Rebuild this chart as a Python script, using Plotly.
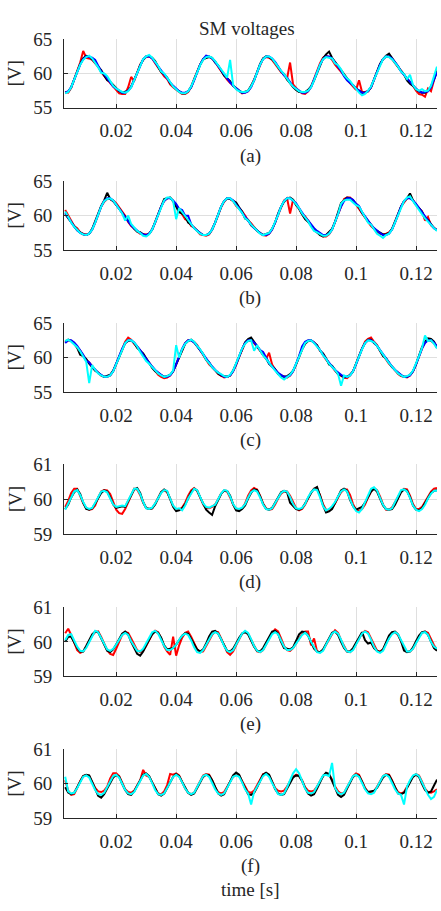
import plotly.graph_objects as go

# ---------------- data ----------------
TIME_MS = [3, 4, 5, 6, 7, 8, 9, 10, 11, 12, 13, 14, 15, 16, 17, 18, 19, 20, 21, 22,
           23, 24, 25, 26, 27, 28, 29, 30, 31, 32, 33, 34, 35, 36, 37, 38, 39, 40, 41, 42,
           43, 44, 45, 46, 47, 48, 49, 50, 51, 52, 53, 54, 55, 56, 57, 58, 59, 60, 61, 62,
           63, 64, 65, 66, 67, 68, 69, 70, 71, 72, 73, 74, 75, 76, 77, 78, 79, 80, 81, 82,
           83, 84, 85, 86, 87, 88, 89, 90, 91, 92, 93, 94, 95, 96, 97, 98, 99, 100, 101, 102,
           103, 104, 105, 106, 107, 108, 109, 110, 111, 112, 113, 114, 115, 116, 117, 118, 119, 120, 121, 122,
           123, 124, 125, 126, 127]

X_TICKS = [0.02, 0.04, 0.06, 0.08, 0.1, 0.12]
X_TICK_LABELS = ["0.02", "0.04", "0.06", "0.08", "0.1", "0.12"]
Y_TICKS_ABC = [55, 60, 65]
Y_TICKS_DEF = [59, 60, 61]
PANEL_LABELS = ["(a)", "(b)", "(c)", "(d)", "(e)", "(f)"]
TITLE = "SM voltages"
Y_LABEL = "[V]"
X_LABEL = "time [s]"

A_BLACK = [57.2, 57.3, 58.0, 59.1, 60.3, 61.4, 62.2, 62.6, 62.5, 62.1, 61.6, 61.0, 60.5, 59.7, 59.0, 58.8, 58.3, 57.8, 57.4, 57.2,
           57.3, 57.5, 58.1, 59.0, 60.1, 61.2, 62.0, 62.5, 62.6, 62.3, 61.8, 61.0, 60.2, 59.9, 59.4, 58.6, 58.1, 57.7, 57.4, 57.1,
           57.1, 57.4, 58.0, 59.1, 60.3, 61.3, 62.1, 62.2, 62.4, 62.3, 61.6, 61.2, 60.4, 59.7, 59.3, 58.9, 58.2, 57.8, 57.5, 57.2,
           57.3, 57.5, 58.2, 59.0, 60.2, 61.4, 62.2, 62.5, 62.4, 62.1, 61.6, 60.9, 60.3, 59.9, 59.1, 58.6, 58.0, 57.6, 57.3, 57.3,
           57.3, 57.6, 58.1, 59.0, 60.1, 61.3, 62.2, 62.8, 63.2, 62.3, 61.7, 61.2, 60.5, 59.9, 59.3, 58.7, 58.3, 57.8, 57.5, 57.2,
           57.2, 57.4, 58.0, 59.1, 60.2, 61.4, 62.1, 62.6, 62.9, 62.2, 61.7, 61.0, 60.4, 59.9, 59.0, 58.5, 58.2, 57.7, 57.4, 57.2,
           57.2, 57.5, 58.1, 59.2, 60.3]
A_RED = [57.3, 57.2, 57.9, 59.2, 60.5, 61.6, 63.3, 62.3, 62.2, 62.0, 61.5, 61.0, 60.2, 59.6, 59.1, 58.6, 58.1, 57.6, 57.1, 57.0,
         57.0, 58.0, 59.5, 58.9, 60.0, 61.3, 62.0, 62.4, 62.5, 62.2, 61.5, 60.8, 60.3, 59.6, 59.2, 58.4, 58.0, 57.6, 57.3, 57.0,
         57.0, 57.3, 58.1, 59.2, 60.4, 61.3, 62.0, 62.4, 62.5, 62.2, 61.8, 61.0, 60.3, 59.8, 59.1, 58.6, 58.3, 57.8, 57.4, 57.1,
         57.2, 57.4, 58.1, 59.1, 60.1, 61.2, 62.2, 62.4, 62.3, 62.0, 61.4, 60.8, 60.2, 59.8, 59.3, 61.6, 58.4, 57.9, 57.4, 57.1,
         57.0, 57.4, 58.1, 59.2, 60.3, 61.5, 62.3, 62.6, 62.4, 62.0, 61.3, 60.8, 60.3, 59.7, 59.2, 58.6, 58.1, 57.6, 59.0, 57.3,
         57.3, 57.4, 58.0, 59.1, 60.2, 61.3, 62.1, 62.5, 62.5, 62.1, 61.5, 61.0, 60.4, 59.8, 59.3, 58.7, 58.2, 57.5, 57.0, 56.9,
         56.6, 57.8, 57.4, 59.0, 60.6]
A_BLUE = [57.2, 57.4, 58.0, 59.0, 60.2, 61.3, 62.1, 62.5, 62.4, 62.3, 62.0, 61.2, 60.3, 59.9, 59.3, 58.6, 58.1, 57.8, 57.5, 57.2,
          57.2, 57.5, 58.0, 59.0, 60.2, 61.2, 62.1, 62.5, 62.5, 62.2, 61.6, 61.1, 60.5, 59.9, 59.3, 58.7, 58.2, 57.8, 57.4, 57.2,
          57.2, 57.4, 58.0, 59.0, 60.2, 61.3, 62.1, 62.6, 62.5, 62.2, 61.7, 61.1, 60.4, 59.8, 59.2, 58.7, 58.2, 57.8, 57.5, 57.2,
          57.2, 57.4, 58.0, 59.0, 60.2, 61.3, 62.1, 62.5, 62.5, 62.2, 61.7, 61.0, 60.4, 59.7, 59.4, 58.8, 58.1, 57.8, 57.5, 57.2,
          57.2, 57.4, 58.0, 59.0, 60.2, 61.3, 62.1, 62.5, 62.5, 62.2, 61.6, 61.1, 60.4, 59.6, 59.0, 58.6, 58.3, 57.8, 57.5, 57.2,
          57.2, 57.4, 58.0, 59.0, 60.2, 61.3, 62.1, 62.5, 62.5, 62.2, 61.7, 61.1, 60.3, 59.8, 59.2, 58.7, 58.2, 57.8, 57.4, 57.2,
          57.3, 57.4, 58.0, 59.0, 60.2]
A_CYAN = [57.1, 57.3, 58.0, 59.0, 60.2, 61.3, 62.0, 62.4, 62.6, 62.2, 61.6, 60.9, 60.1, 60.0, 59.6, 58.8, 58.2, 57.8, 57.5, 57.3,
          57.2, 57.4, 58.0, 59.0, 60.1, 61.2, 62.1, 62.5, 62.7, 62.3, 61.7, 61.1, 60.3, 60.0, 59.4, 58.7, 58.1, 57.7, 57.3, 57.1,
          57.1, 57.4, 58.1, 59.1, 60.2, 61.2, 62.0, 62.4, 62.5, 62.3, 61.8, 61.2, 60.5, 59.9, 59.4, 62.0, 58.3, 57.7, 57.4, 57.3,
          57.3, 57.5, 58.1, 59.0, 60.1, 61.3, 62.1, 62.5, 62.5, 62.2, 61.6, 60.9, 60.4, 59.9, 59.2, 58.6, 58.1, 57.7, 57.4, 57.3,
          57.3, 57.5, 58.0, 59.0, 60.2, 61.3, 62.1, 62.4, 62.3, 62.2, 61.5, 61.2, 60.6, 59.8, 59.3, 58.9, 58.3, 57.7, 57.2, 56.8,
          57.0, 57.5, 58.1, 59.1, 60.1, 61.3, 62.1, 62.5, 62.4, 62.1, 61.6, 61.0, 60.3, 59.9, 59.2, 59.8, 58.3, 57.7, 57.5, 57.7,
          57.4, 57.5, 58.2, 59.8, 61.0]

B_BLACK = [60.2, 59.6, 59.0, 58.5, 57.9, 57.6, 57.3, 57.2, 57.4, 58.1, 59.1, 60.3, 61.4, 62.2, 63.3, 62.4, 62.1, 61.6, 61.0, 60.4,
           59.8, 59.3, 58.6, 58.1, 57.7, 57.6, 57.3, 57.1, 57.4, 58.0, 59.1, 60.3, 61.3, 62.4, 62.5, 62.6, 62.1, 61.2, 60.5, 60.3,
           59.9, 59.0, 58.7, 58.2, 57.8, 57.5, 57.2, 57.2, 57.4, 58.0, 59.0, 60.2, 61.3, 62.1, 62.5, 62.4, 62.2, 61.9, 61.2, 60.6,
           59.6, 59.4, 58.6, 58.2, 57.8, 57.5, 57.2, 57.3, 57.5, 58.1, 59.0, 60.3, 61.3, 62.0, 62.5, 62.6, 62.3, 61.5, 61.0, 60.2,
           59.5, 59.1, 58.6, 58.0, 57.6, 57.2, 57.0, 57.2, 57.6, 58.1, 59.1, 60.3, 61.8, 62.2, 62.6, 62.5, 62.2, 61.7, 61.2, 60.4,
           59.7, 59.2, 58.7, 58.1, 57.8, 57.5, 57.3, 57.3, 57.5, 58.1, 59.2, 60.3, 61.3, 62.1, 62.5, 63.2, 62.2, 61.6, 61.1, 60.6,
           59.6, 59.4, 58.8, 58.2, 57.9]
B_RED = [60.8, 60.0, 59.2, 58.5, 58.2, 57.6, 57.4, 57.3, 57.4, 58.0, 59.0, 60.2, 61.3, 62.0, 62.4, 62.4, 62.2, 61.8, 61.2, 60.6,
         60.0, 59.1, 58.5, 58.2, 57.7, 57.4, 57.3, 57.3, 57.4, 58.0, 59.0, 60.2, 61.3, 62.1, 62.5, 62.6, 62.1, 61.5, 60.7, 60.2,
         59.5, 59.3, 58.5, 58.3, 57.8, 57.3, 57.2, 57.1, 57.3, 58.0, 59.0, 60.1, 61.2, 62.0, 62.5, 62.4, 62.1, 61.4, 61.0, 60.6,
         60.0, 59.3, 58.9, 58.3, 57.8, 57.5, 57.2, 57.1, 57.4, 58.0, 59.0, 60.1, 61.2, 62.2, 62.5, 60.3, 62.3, 61.7, 61.0, 60.2,
         59.9, 59.3, 58.5, 57.9, 57.6, 57.4, 57.0, 57.0, 57.3, 58.0, 59.1, 60.2, 61.5, 62.4, 62.6, 62.6, 62.2, 61.6, 60.9, 60.3,
         59.7, 59.1, 58.5, 58.1, 57.6, 57.4, 57.3, 57.4, 57.6, 58.0, 59.0, 60.1, 61.3, 62.0, 62.5, 62.6, 62.2, 61.5, 61.0, 60.6,
         59.3, 59.8, 58.6, 58.3, 57.9]
B_BLUE = [60.4, 59.7, 59.1, 58.4, 57.9, 57.5, 57.3, 57.2, 57.4, 58.0, 59.0, 60.2, 61.3, 62.1, 62.5, 62.5, 62.2, 61.6, 61.0, 60.4,
          59.8, 59.2, 58.6, 58.2, 57.8, 57.5, 57.3, 57.2, 57.4, 58.0, 59.0, 60.2, 61.3, 62.1, 62.5, 62.5, 62.2, 61.7, 61.0, 60.8,
          60.0, 60.0, 58.8, 58.2, 57.8, 57.5, 57.2, 57.2, 57.4, 58.0, 59.0, 60.2, 61.3, 62.1, 62.5, 62.5, 62.2, 61.6, 61.1, 60.4,
          59.8, 59.2, 58.7, 58.2, 57.8, 57.5, 57.2, 57.2, 57.4, 58.0, 59.0, 60.2, 61.3, 62.1, 62.5, 62.5, 62.2, 61.8, 61.1, 60.4,
          59.8, 59.3, 58.7, 58.2, 57.8, 57.5, 57.2, 57.2, 57.4, 58.0, 59.0, 60.2, 61.3, 62.1, 62.5, 62.5, 62.3, 61.7, 61.4, 60.5,
          59.9, 59.2, 58.7, 58.2, 57.8, 57.5, 57.2, 57.2, 57.4, 58.0, 59.0, 60.2, 61.3, 62.1, 62.5, 62.5, 62.2, 61.7, 61.1, 60.4,
          59.8, 59.2, 58.7, 58.2, 57.9]
B_CYAN = [60.6, 59.7, 59.0, 58.4, 57.9, 57.5, 57.3, 57.2, 57.4, 58.0, 59.0, 60.2, 61.3, 62.1, 62.4, 62.5, 62.2, 61.6, 60.9, 60.3,
          59.3, 60.0, 58.8, 58.3, 57.8, 57.5, 57.1, 57.0, 57.3, 58.0, 59.0, 60.1, 61.2, 62.2, 62.6, 62.6, 62.1, 59.5, 61.1, 60.5,
          60.0, 59.3, 58.7, 58.2, 57.8, 57.4, 57.2, 57.2, 57.4, 58.0, 59.0, 60.2, 61.3, 62.1, 62.5, 62.5, 62.1, 61.5, 61.0, 60.4,
          59.6, 59.3, 58.7, 58.3, 57.8, 57.4, 57.2, 57.3, 57.5, 58.1, 59.0, 60.1, 61.3, 62.1, 62.5, 62.5, 62.2, 61.7, 61.1, 60.3,
          59.8, 59.2, 58.4, 57.8, 57.6, 57.3, 57.1, 57.1, 57.4, 58.0, 59.0, 60.2, 61.7, 62.2, 62.3, 62.3, 61.9, 61.5, 61.3, 60.6,
          59.8, 59.0, 58.7, 58.1, 57.4, 57.1, 56.8, 57.2, 57.4, 58.0, 59.0, 60.2, 61.2, 62.1, 62.6, 62.8, 62.1, 61.4, 60.7, 60.2,
          59.6, 59.1, 58.6, 58.2, 57.8]

C_BLACK = [62.3, 62.6, 62.4, 62.0, 61.4, 60.4, 60.2, 59.8, 59.1, 58.6, 58.1, 57.8, 57.4, 57.2, 57.3, 57.5, 58.1, 59.1, 60.2, 61.3,
           62.1, 62.4, 62.5, 62.1, 61.4, 61.0, 60.6, 59.9, 59.1, 58.5, 58.0, 57.7, 57.4, 57.2, 57.3, 57.5, 58.0, 59.0, 60.2, 61.2,
           62.0, 62.4, 62.6, 62.2, 61.6, 61.1, 60.5, 59.7, 59.3, 58.6, 58.1, 57.7, 57.4, 57.3, 57.2, 57.4, 58.1, 59.1, 60.2, 61.3,
           62.2, 62.7, 62.9, 62.3, 61.6, 60.9, 60.4, 59.9, 59.1, 58.7, 58.3, 57.6, 57.3, 57.2, 57.3, 57.6, 58.1, 59.0, 60.1, 61.2,
           62.0, 62.4, 62.5, 62.2, 61.8, 61.0, 60.6, 59.9, 59.0, 58.8, 58.2, 57.6, 57.4, 57.1, 57.2, 57.5, 58.0, 59.0, 60.2, 61.3,
           62.1, 62.6, 62.6, 62.1, 61.7, 61.0, 60.2, 59.9, 59.2, 58.6, 58.2, 57.8, 57.4, 57.2, 57.2, 57.5, 58.0, 59.0, 60.3, 61.5,
           62.3, 62.8, 62.7, 62.3, 61.5]
C_RED = [62.2, 62.5, 62.4, 62.1, 61.5, 61.0, 60.3, 59.7, 59.3, 58.7, 58.2, 57.8, 57.4, 57.2, 57.2, 57.4, 58.0, 59.0, 60.2, 61.4,
         62.3, 62.9, 62.6, 62.0, 61.6, 61.0, 60.4, 59.8, 59.2, 58.6, 58.0, 57.5, 57.2, 57.0, 57.1, 57.4, 58.0, 59.0, 60.1, 61.2,
         62.1, 62.5, 62.5, 62.3, 61.8, 61.1, 60.3, 59.7, 59.0, 58.6, 58.2, 57.6, 57.3, 57.1, 57.2, 57.4, 58.0, 58.9, 60.1, 61.2,
         62.1, 62.4, 62.4, 62.1, 61.6, 61.0, 60.4, 59.8, 60.7, 59.0, 58.3, 57.7, 57.4, 57.2, 57.1, 57.4, 58.0, 59.0, 60.1, 61.2,
         62.0, 62.4, 62.5, 62.2, 61.7, 61.0, 60.4, 59.7, 59.2, 58.6, 58.1, 57.6, 57.3, 57.1, 57.0, 57.4, 58.0, 59.0, 60.2, 61.3,
         62.3, 62.7, 62.9, 62.3, 61.8, 61.0, 60.3, 59.6, 59.1, 58.7, 58.2, 57.6, 57.3, 57.2, 57.1, 57.4, 58.0, 59.0, 60.2, 61.3,
         62.2, 62.6, 62.4, 62.1, 61.4]
C_BLUE = [62.1, 62.5, 62.5, 62.2, 61.7, 61.1, 60.4, 59.5, 59.3, 58.7, 58.2, 57.8, 57.5, 57.2, 57.2, 57.4, 58.0, 59.0, 60.2, 61.3,
          62.1, 62.5, 62.5, 62.2, 61.7, 61.1, 60.4, 59.8, 59.2, 58.7, 58.2, 57.8, 57.5, 57.2, 57.2, 57.4, 58.0, 59.0, 60.2, 61.3,
          62.1, 62.5, 62.5, 62.2, 61.7, 61.1, 60.4, 59.8, 59.2, 58.7, 58.2, 57.8, 57.5, 57.2, 57.2, 57.4, 58.0, 59.0, 60.2, 61.3,
          62.1, 62.5, 62.5, 62.2, 61.7, 61.1, 60.8, 59.9, 59.2, 58.7, 58.2, 57.8, 57.5, 57.2, 57.2, 57.4, 58.0, 59.0, 60.2, 61.6,
          62.3, 62.5, 62.5, 62.2, 61.7, 61.1, 60.4, 59.8, 59.2, 58.7, 58.2, 57.8, 57.5, 57.2, 57.2, 57.4, 58.0, 59.0, 60.2, 61.3,
          62.1, 62.5, 62.5, 62.2, 61.7, 61.1, 60.4, 59.8, 59.2, 58.7, 58.2, 57.8, 57.5, 57.2, 57.2, 57.4, 58.0, 59.0, 60.2, 61.3,
          62.1, 62.5, 62.5, 62.2, 61.6]
C_CYAN = [62.4, 62.6, 62.3, 61.9, 61.5, 60.9, 60.1, 59.4, 56.3, 58.9, 58.2, 57.7, 57.4, 57.2, 57.2, 57.4, 58.0, 59.0, 60.1, 61.2,
          62.1, 62.5, 62.5, 62.2, 61.6, 60.8, 60.1, 59.5, 59.1, 58.6, 58.2, 57.7, 57.4, 57.2, 57.3, 57.5, 58.1, 61.8, 60.0, 61.2,
          62.0, 62.4, 62.6, 62.3, 61.7, 61.2, 60.5, 59.7, 59.2, 58.6, 58.2, 57.8, 57.6, 57.3, 57.2, 57.5, 58.1, 59.1, 60.2, 61.3,
          62.0, 62.4, 62.5, 61.0, 61.8, 61.0, 60.3, 59.8, 59.2, 58.6, 58.1, 57.6, 57.1, 56.8, 57.2, 57.5, 58.1, 59.1, 60.2, 61.2,
          62.1, 62.4, 62.5, 62.1, 61.6, 61.1, 60.3, 59.8, 59.1, 58.7, 58.2, 57.6, 55.9, 57.4, 57.2, 57.4, 58.0, 59.1, 60.2, 61.2,
          62.1, 62.5, 62.4, 62.2, 61.7, 61.0, 60.5, 59.8, 59.2, 58.7, 58.1, 57.7, 57.4, 57.2, 57.3, 57.5, 58.1, 59.1, 60.2, 61.4,
          63.2, 62.4, 62.5, 62.0, 61.3]

D_BLACK = [59.72, 59.85, 60.05, 60.20, 60.28, 60.15, 59.90, 59.72, 59.70, 59.74,
           59.88, 60.02, 60.18, 60.25, 60.22, 60.05, 59.85, 59.75, 59.78, 59.80,
           59.78, 59.95, 60.12, 60.28, 60.32, 60.18, 59.92, 59.75, 59.72, 59.74,
           59.85, 60.05, 60.20, 60.28, 60.22, 60.00, 59.78, 59.66, 59.68, 59.74,
           59.85, 60.02, 60.20, 60.30, 60.25, 60.06, 59.88, 59.70, 59.62, 59.55,
           59.80, 60.00, 60.15, 60.25, 60.24, 60.10, 59.85, 59.68, 59.66, 59.72,
           59.82, 60.02, 60.18, 60.28, 60.26, 60.08, 59.86, 59.72, 59.70, 59.75,
           59.90, 60.06, 60.20, 60.24, 60.20, 59.90, 59.82, 59.72, 59.70, 59.74,
           59.88, 60.05, 60.18, 60.30, 60.35, 60.10, 59.82, 59.62, 59.65, 59.72,
           59.90, 60.10, 60.25, 60.30, 60.24, 59.98, 59.80, 59.70, 59.74, 59.78,
           59.90, 60.08, 60.22, 60.30, 60.22, 60.02, 59.82, 59.72, 59.70, 59.72,
           59.84, 60.02, 60.20, 60.28, 60.24, 60.05, 59.82, 59.70, 59.68, 59.74,
           59.90, 60.06, 60.18, 60.24, 60.26]
D_RED = [59.78, 59.95, 60.18, 60.30, 60.30, 60.10, 59.88, 59.75, 59.70, 59.72,
         59.82, 60.05, 60.22, 60.26, 60.25, 60.15, 59.90, 59.70, 59.60, 59.58,
         59.72, 59.90, 60.12, 60.30, 60.28, 60.12, 59.90, 59.75, 59.72, 59.74,
         59.88, 60.05, 60.20, 60.25, 60.20, 60.02, 59.80, 59.70, 59.70, 59.76,
         59.90, 60.10, 60.25, 60.32, 60.24, 60.05, 59.85, 59.75, 59.74, 59.78,
         59.85, 60.00, 60.16, 60.24, 60.22, 60.05, 59.85, 59.72, 59.70, 59.74,
         59.88, 60.10, 60.25, 60.32, 60.28, 60.10, 59.88, 59.74, 59.70, 59.72,
         59.85, 60.02, 60.16, 60.22, 60.22, 60.10, 59.90, 59.74, 59.68, 59.72,
         59.84, 60.02, 60.20, 60.30, 60.30, 60.12, 59.86, 59.70, 59.68, 59.75,
         59.88, 60.05, 60.20, 60.28, 60.28, 60.12, 59.86, 59.70, 59.66, 59.72,
         59.85, 60.05, 60.22, 60.32, 60.26, 60.08, 59.85, 59.70, 59.70, 59.76,
         59.90, 60.06, 60.22, 60.30, 60.28, 60.10, 59.86, 59.72, 59.72, 59.78,
         59.92, 60.10, 60.22, 60.30, 60.32]
D_CYAN = [59.70, 59.88, 60.08, 60.22, 60.26, 60.12, 59.92, 59.76, 59.72, 59.75,
          59.90, 60.05, 60.22, 60.24, 60.20, 60.02, 59.85, 59.78, 59.80, 59.82,
          59.80, 59.96, 60.15, 60.30, 60.30, 60.15, 59.92, 59.74, 59.72, 59.76,
          59.88, 60.04, 60.18, 60.26, 60.24, 60.02, 59.82, 59.72, 59.74, 59.68,
          59.82, 60.02, 60.18, 60.30, 60.26, 60.06, 59.88, 59.78, 59.76, 59.80,
          59.84, 60.00, 60.16, 60.26, 60.24, 60.08, 59.86, 59.74, 59.72, 59.76,
          59.86, 60.04, 60.20, 60.26, 60.22, 60.05, 59.85, 59.72, 59.70, 59.74,
          59.88, 60.04, 60.18, 60.24, 60.22, 60.06, 59.86, 59.74, 59.72, 59.75,
          59.86, 60.06, 60.20, 60.28, 60.26, 60.05, 59.80, 59.68, 59.72, 59.80,
          59.92, 60.08, 60.22, 60.28, 60.22, 60.00, 59.80, 59.66, 59.62, 59.72,
          59.90, 60.12, 60.30, 60.34, 60.25, 60.04, 59.84, 59.72, 59.70, 59.74,
          59.90, 60.10, 60.26, 60.28, 60.22, 60.04, 59.82, 59.70, 59.66, 59.72,
          59.84, 60.02, 60.16, 60.24, 60.24]

E_BLACK = [60.00, 60.15, 60.15, 60.00, 59.82, 59.72, 59.72, 59.88, 60.05, 60.22,
           60.30, 60.28, 60.10, 59.90, 59.74, 59.70, 59.78, 59.92, 60.10, 60.24,
           60.30, 60.22, 60.00, 59.80, 59.65, 59.60, 59.72, 59.90, 60.08, 60.22,
           60.30, 60.26, 60.12, 59.90, 59.78, 59.80, 59.82, 59.92, 60.06, 60.18,
           60.25, 60.24, 60.08, 59.92, 59.78, 59.72, 59.78, 59.95, 60.16, 60.30,
           60.32, 60.24, 60.06, 59.88, 59.74, 59.72, 59.80, 59.95, 60.12, 60.24,
           60.28, 60.22, 60.04, 59.86, 59.74, 59.72, 59.82, 59.98, 60.15, 60.30,
           60.32, 60.24, 60.00, 59.82, 59.80, 59.78, 59.84, 60.05, 60.22, 60.30,
           60.28, 60.18, 59.98, 59.80, 59.72, 59.70, 59.78, 59.95, 60.12, 60.26,
           60.30, 60.20, 60.00, 59.82, 59.72, 59.72, 59.82, 59.98, 60.15, 60.28,
           60.05, 59.95, 59.98, 59.82, 59.74, 59.70, 59.78, 59.98, 60.18, 60.28,
           60.30, 60.22, 60.02, 59.75, 59.70, 59.72, 59.84, 60.02, 60.18, 60.28,
           60.30, 60.20, 60.00, 59.82, 59.74]
E_RED = [60.25, 60.38, 60.20, 59.95, 59.76, 59.68, 59.72, 59.85, 60.02, 60.18,
         60.28, 60.30, 60.14, 59.94, 59.76, 59.65, 59.62, 59.80, 60.02, 60.20,
         60.28, 60.26, 60.10, 59.92, 59.76, 59.70, 59.74, 59.88, 60.06, 60.22,
         60.32, 60.28, 60.10, 59.86, 59.72, 59.62, 60.15, 59.60, 59.90, 60.12,
         60.26, 60.30, 60.15, 59.95, 59.78, 59.70, 59.72, 59.88, 60.05, 60.20,
         60.30, 60.28, 60.10, 59.88, 59.70, 59.62, 59.72, 59.90, 60.08, 60.24,
         60.30, 60.24, 60.06, 59.88, 59.72, 59.70, 59.76, 59.92, 60.10, 60.26,
         60.36, 60.30, 60.10, 59.88, 59.76, 59.74, 59.82, 59.95, 60.10, 60.22,
         60.30, 60.30, 59.90, 60.10, 59.72, 59.70, 59.76, 59.92, 60.08, 60.22,
         60.34, 60.26, 60.05, 59.86, 59.72, 59.70, 59.78, 59.94, 60.10, 60.24,
         60.32, 60.28, 60.10, 59.90, 59.74, 59.72, 59.78, 59.95, 60.12, 60.26,
         60.28, 60.20, 60.02, 59.84, 59.72, 59.72, 59.80, 59.98, 60.14, 60.26,
         60.30, 60.26, 60.08, 59.90, 59.78]
E_CYAN = [60.05, 60.20, 60.22, 60.05, 59.86, 59.74, 59.72, 59.82, 60.00, 60.18,
          60.32, 60.28, 60.10, 59.92, 59.78, 59.74, 59.80, 59.92, 60.08, 60.20,
          60.26, 60.20, 60.02, 59.86, 59.74, 59.72, 59.80, 59.96, 60.14, 60.28,
          60.32, 60.24, 60.06, 59.88, 59.76, 59.76, 59.82, 59.92, 60.06, 60.18,
          60.24, 60.20, 60.04, 59.84, 59.70, 59.68, 59.76, 59.92, 60.10, 60.22,
          60.28, 60.24, 60.08, 59.88, 59.74, 59.70, 59.76, 59.92, 60.10, 60.24,
          60.32, 60.26, 60.08, 59.88, 59.74, 59.70, 59.76, 59.92, 60.08, 60.22,
          60.28, 60.22, 60.04, 59.86, 59.76, 59.76, 59.82, 59.94, 60.08, 60.20,
          60.26, 60.18, 60.00, 59.84, 59.70, 59.68, 59.74, 59.92, 60.10, 60.24,
          60.30, 60.24, 60.06, 59.86, 59.72, 59.70, 59.76, 59.92, 60.10, 60.24,
          60.30, 60.24, 60.06, 59.86, 59.72, 59.68, 59.74, 59.92, 60.10, 60.22,
          60.28, 60.22, 60.06, 59.86, 59.72, 59.72, 59.80, 59.96, 60.12, 60.26,
          60.28, 60.20, 60.00, 59.86, 59.80]

F_BLACK = [59.90, 59.75, 59.70, 59.74, 59.90, 60.08, 60.22, 60.26, 60.24, 60.05,
           59.84, 59.65, 59.60, 59.70, 59.86, 60.04, 60.18, 60.25, 60.20, 60.00,
           59.82, 59.70, 59.68, 59.78, 59.95, 60.12, 60.26, 60.30, 60.22, 60.04,
           59.85, 59.70, 59.66, 59.72, 59.88, 60.05, 60.20, 60.28, 60.22, 60.05,
           59.88, 59.74, 59.68, 59.72, 59.88, 60.06, 60.20, 60.26, 60.24, 60.10,
           59.90, 59.72, 59.66, 59.70, 59.88, 60.08, 60.24, 60.32, 60.26, 60.06,
           59.86, 59.70, 59.68, 59.74, 59.90, 60.10, 60.26, 60.32, 60.26, 60.06,
           59.85, 59.72, 59.68, 59.70, 59.84, 60.02, 60.18, 60.24, 60.22, 60.08,
           59.88, 59.72, 59.66, 59.70, 59.86, 60.06, 60.22, 60.32, 60.28, 60.08,
           59.85, 59.68, 59.62, 59.68, 59.86, 60.04, 60.20, 60.26, 60.22, 60.06,
           59.86, 59.76, 59.78, 59.80, 59.88, 60.02, 60.18, 60.26, 60.24, 60.08,
           59.88, 59.72, 59.70, 59.74, 59.88, 60.06, 60.20, 60.26, 60.20, 60.00,
           59.82, 59.74, 59.78, 59.95, 60.12]
F_RED = [60.10, 59.80, 59.68, 59.70, 59.88, 60.08, 60.22, 60.25, 60.22, 60.05,
         59.88, 59.78, 59.76, 59.80, 59.92, 60.15, 60.30, 60.30, 60.22, 60.04,
         59.84, 59.76, 59.74, 59.80, 59.94, 60.10, 60.40, 60.24, 60.20, 60.04,
         59.84, 59.72, 59.70, 59.78, 59.96, 60.28, 60.26, 60.30, 60.24, 60.06,
         59.86, 59.74, 59.70, 59.74, 59.90, 60.10, 60.24, 60.28, 60.26, 60.10,
         59.90, 59.76, 59.72, 59.76, 59.90, 60.06, 60.20, 60.26, 60.24, 60.08,
         59.90, 59.76, 59.74, 59.80, 59.96, 60.14, 60.28, 60.30, 60.24, 60.06,
         59.88, 59.80, 59.78, 59.80, 59.92, 60.08, 60.20, 60.26, 60.24, 60.10,
         59.90, 59.80, 59.78, 59.80, 59.92, 60.08, 60.22, 60.30, 60.26, 60.12,
         59.92, 59.78, 59.72, 59.74, 59.88, 60.06, 60.22, 60.30, 60.26, 60.08,
         59.88, 59.76, 59.72, 59.76, 59.90, 60.08, 60.22, 60.28, 60.26, 60.10,
         59.90, 59.76, 59.72, 59.76, 59.90, 60.08, 60.22, 60.28, 60.24, 60.06,
         59.86, 59.76, 59.74, 59.78, 59.84]
F_CYAN = [60.20, 59.78, 59.72, 59.74, 59.88, 60.06, 60.20, 60.24, 60.18, 60.00,
          59.82, 59.70, 59.68, 59.74, 59.90, 60.08, 60.22, 60.26, 60.18, 60.00,
          59.82, 59.72, 59.70, 59.76, 59.92, 60.10, 60.24, 60.28, 60.20, 60.02,
          59.82, 59.70, 59.68, 59.72, 59.88, 60.06, 60.20, 60.26, 60.20, 60.04,
          59.86, 59.74, 59.70, 59.74, 59.90, 60.08, 60.22, 60.26, 60.20, 60.02,
          59.84, 59.72, 59.68, 59.72, 59.88, 60.06, 60.20, 60.24, 60.20, 60.04,
          59.84, 59.72, 59.40, 59.76, 59.90, 60.08, 60.22, 60.28, 60.20, 60.02,
          59.84, 59.70, 59.68, 59.72, 59.90, 60.10, 60.30, 60.42, 60.30, 60.08,
          59.86, 59.74, 59.72, 59.76, 59.92, 60.10, 60.24, 60.26, 60.22, 60.60,
          59.88, 59.74, 59.70, 59.74, 59.90, 60.08, 60.22, 60.26, 60.20, 60.02,
          59.84, 59.72, 59.70, 59.74, 59.90, 60.08, 60.22, 60.26, 60.20, 60.02,
          59.84, 59.72, 59.68, 59.40, 59.92, 60.10, 60.24, 60.28, 60.22, 60.04,
          59.84, 59.68, 59.56, 59.62, 59.82]

PANELS = [
    {"black": A_BLACK, "red": A_RED, "blue": A_BLUE, "cyan": A_CYAN, "yticks": Y_TICKS_ABC},
    {"black": B_BLACK, "red": B_RED, "blue": B_BLUE, "cyan": B_CYAN, "yticks": Y_TICKS_ABC},
    {"black": C_BLACK, "red": C_RED, "blue": C_BLUE, "cyan": C_CYAN, "yticks": Y_TICKS_ABC},
    {"black": D_BLACK, "red": D_RED, "cyan": D_CYAN, "yticks": Y_TICKS_DEF},
    {"black": E_BLACK, "red": E_RED, "cyan": E_CYAN, "yticks": Y_TICKS_DEF},
    {"black": F_BLACK, "red": F_RED, "cyan": F_CYAN, "yticks": Y_TICKS_DEF},
]

for p in PANELS:
    for k in ("black", "red", "blue", "cyan"):
        if k in p:
            assert len(p[k]) == len(TIME_MS), (k, len(p[k]))

# ---------------- layout ----------------
W, H = 441, 911
PX_LEFT, PX_RIGHT = 64, 437
PANEL_PX = [(30, 100), (175, 246), (320.5, 391), (465, 536.5), (611.5, 682), (756.5, 827.5)]
FONT = "Liberation Serif, Times New Roman, Times, serif"
AXCOL = "#262626"
GRIDCOL = "#dfdfdf"
COLORS = {"black": "#000000", "red": "#ff0000", "blue": "#0000ff", "cyan": "#00ffff"}
ORDER = ["red", "black", "blue", "cyan"]

time_s = [t / 1000.0 for t in TIME_MS]

fig = go.Figure()
layout = dict(
    width=W, height=H, autosize=False,
    margin=dict(l=0, r=0, t=0, b=0, pad=0),
    paper_bgcolor="white", plot_bgcolor="white",
    showlegend=False,
    font=dict(family=FONT, color=AXCOL, size=19),
)

x0 = PX_LEFT / W
x1 = PX_RIGHT / W
xmid = (x0 + x1) / 2
annotations = []

for i, p in enumerate(PANELS):
    n = "" if i == 0 else str(i + 1)
    top, bot = PANEL_PX[i]
    for k in ORDER:
        if k in p:
            fig.add_trace(go.Scatter(
                x=time_s, y=p[k], mode="lines",
                line=dict(color=COLORS[k], width=2),
                xaxis="x" + n, yaxis="y" + n, hoverinfo="skip",
            ))
    yt = p["yticks"]
    layout["xaxis" + n] = dict(
        domain=[x0, x1], anchor="y" + n, range=[0.0026, 0.127],
        tickvals=X_TICKS, ticktext=X_TICK_LABELS,
        showgrid=True, gridcolor=GRIDCOL, gridwidth=1,
        showline=True, linecolor=AXCOL, linewidth=1, mirror=False,
        ticks="inside", ticklen=4, tickcolor=AXCOL, tickwidth=1,
        tickfont=dict(family=FONT, size=19, color=AXCOL),
        ticklabelstandoff=6,
        zeroline=False, fixedrange=True,
    )
    layout["yaxis" + n] = dict(
        domain=[1 - bot / H, 1 - top / H], anchor="x" + n,
        range=[yt[0], yt[-1]], tickvals=yt, ticktext=[str(v) for v in yt],
        showgrid=True, gridcolor=GRIDCOL, gridwidth=1,
        showline=True, linecolor=AXCOL, linewidth=1, mirror=False,
        ticks="inside", ticklen=4, tickcolor=AXCOL, tickwidth=1,
        tickfont=dict(family=FONT, size=19, color=AXCOL),
        ticklabelstandoff=7,
        zeroline=False, fixedrange=True,
    )
    annotations.append(dict(
        text=Y_LABEL, x=15 / W, y=1 - (top + bot) / 2 / H, xref="paper", yref="paper",
        showarrow=False, textangle=-90, xanchor="center", yanchor="middle",
        font=dict(family=FONT, size=19, color=AXCOL),
    ))
    annotations.append(dict(
        text=PANEL_LABELS[i], x=xmid, y=1 - (bot + 49) / H, xref="paper", yref="paper",
        showarrow=False, xanchor="center", yanchor="middle",
        font=dict(family=FONT, size=19, color=AXCOL),
    ))

annotations.append(dict(
    text=TITLE, x=247.5 / W, y=1 - 19 / H, xref="paper", yref="paper",
    showarrow=False, xanchor="center", yanchor="middle",
    font=dict(family=FONT, size=19, color=AXCOL),
))
annotations.append(dict(
    text=X_LABEL, x=xmid, y=1 - 900 / H, xref="paper", yref="paper",
    showarrow=False, xanchor="center", yanchor="middle",
    font=dict(family=FONT, size=19, color=AXCOL),
))
layout["annotations"] = annotations
fig.update_layout(**layout)
fig.write_html(
    "out.html",
    config={"responsive": False, "displayModeBar": False},
    post_script="document.body.style.margin='0px';document.body.style.overflow='hidden';",
)
